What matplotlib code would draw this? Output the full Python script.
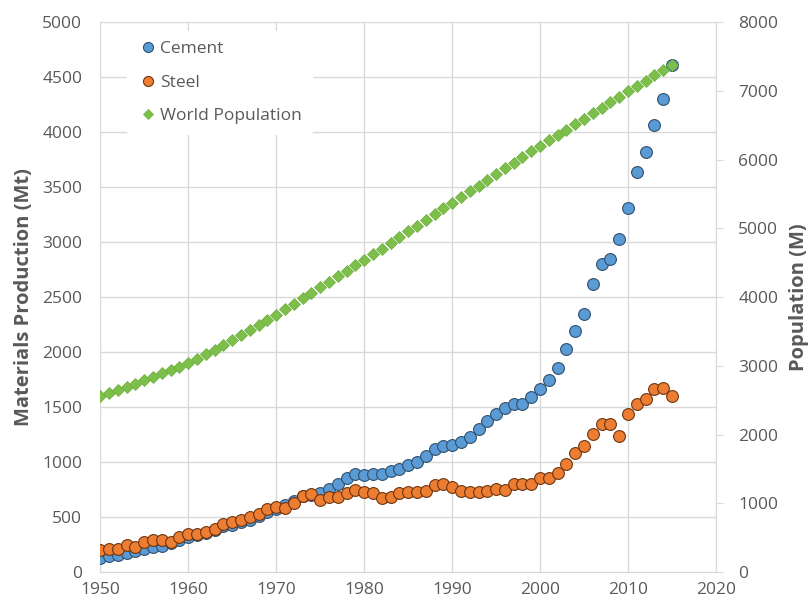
import matplotlib.pyplot as plt
import numpy as np

years = list(range(1950, 2016))

cement = [130, 150, 160, 175, 190, 215, 230, 240, 265, 290,
          317, 335, 355, 380, 420, 433, 460, 475, 510, 550,
          575, 610, 650, 690, 705, 715, 760, 800, 855, 890,
          885, 890, 890, 920, 940, 970, 1005, 1060, 1120, 1150,
          1160, 1180, 1230, 1300, 1370, 1440, 1495, 1530, 1530, 1595,
          1665, 1745, 1855, 2030, 2190, 2350, 2615, 2800, 2850, 3030,
          3305, 3640, 3815, 4065, 4300, 4610]

steel = [200, 215, 215, 250, 225, 270, 295, 295, 270, 320,
         350, 350, 365, 395, 440, 455, 470, 500, 530, 575,
         595, 580, 630, 695, 710, 660, 680, 680, 720, 750,
         725, 715, 670, 680, 715, 725, 725, 740, 790, 800,
         770, 735, 725, 725, 740, 755, 745, 805, 800, 805,
         860, 860, 905, 985, 1080, 1150, 1260, 1350, 1350, 1240,
         1440, 1530, 1575, 1665, 1675, 1600]

population = [2560, 2600, 2645, 2690, 2740, 2790, 2840, 2890, 2940, 2990,
              3040, 3100, 3165, 3235, 3305, 3375, 3445, 3520, 3590, 3665,
              3740, 3820, 3900, 3980, 4060, 4140, 4220, 4300, 4380, 4460,
              4540, 4620, 4705, 4790, 4870, 4955, 5040, 5120, 5205, 5290,
              5370, 5455, 5540, 5620, 5705, 5785, 5870, 5950, 6035, 6120,
              6200, 6280, 6360, 6435, 6515, 6595, 6675, 6750, 6830, 6910,
              6990, 7065, 7145, 7225, 7300, 7380]

plt.rcParams['font.family'] = ['Open Sans', 'DejaVu Sans']
txt = '#595959'
gridc = '#D9D9D9'

fig = plt.figure(figsize=(8.09, 6.10), dpi=100)
ax = fig.add_axes([0.124, 0.062, 0.761, 0.902])
ax2 = ax.twinx()

ax.plot(years, cement, 'o', ms=8.5, mfc='#5B9BD5', mec='#2E4F6E', mew=0.8, label='Cement')
ax.plot(years, steel, 'o', ms=8.5, mfc='#ED7D31', mec='#6E3510', mew=0.8, label='Steel')
ax2.plot(years, population, 'D', ms=6.5, mfc='#7CC04B', mec='#6AAE3A', mew=0.5, label='World Population')

ax.set_xlim(1950, 2020)
ax.set_ylim(0, 5000)
ax2.set_ylim(0, 8000)
ax.set_xticks(range(1950, 2021, 10))
ax.set_yticks(range(0, 5001, 500))
ax2.set_yticks(range(0, 8001, 1000))

ax.grid(True, color=gridc, lw=1)
ax.set_axisbelow(True)
for s in ['left', 'top', 'bottom', 'right']:
    ax.spines[s].set_visible(False)
for s in ['left', 'top']:
    ax2.spines[s].set_visible(False)
ax2.spines['right'].set_color(gridc)
ax2.spines['bottom'].set_color(gridc)

ax.tick_params(axis='y', length=0, labelsize=12.5, labelcolor=txt, pad=13)
ax.tick_params(axis='x', length=0, labelsize=12.5, labelcolor=txt, pad=7)
ax2.tick_params(axis='y', length=5, color=gridc, labelsize=12.5, labelcolor=txt, pad=11)

ax.set_ylabel('Materials Production (Mt)', fontsize=14.5, fontweight='bold', color=txt, labelpad=6)
ax2.set_ylabel('Population (M)', fontsize=14.5, fontweight='bold', color=txt, labelpad=8)

h1, l1 = ax.get_legend_handles_labels()
h2, l2 = ax2.get_legend_handles_labels()
leg = ax2.legend(h1 + h2, l1 + l2, loc='upper left', bbox_to_anchor=(0.03, 1.0),
                 frameon=True, facecolor='white', edgecolor='none', framealpha=1,
                 fontsize=12.5, labelspacing=1.0, handletextpad=0.1, handlelength=1.2,
                 borderpad=0.6, markerscale=0.85)
for t in leg.get_texts():
    t.set_color(txt)

fig.savefig('out.png', dpi=100)
